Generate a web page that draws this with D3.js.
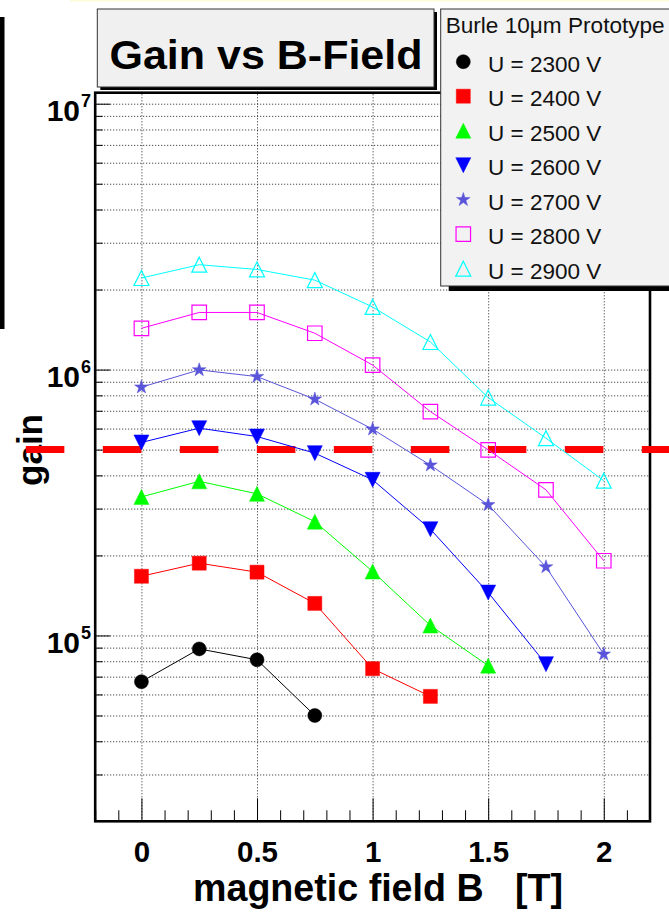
<!DOCTYPE html>
<html>
<head>
<meta charset="utf-8">
<script src="https://cdn.jsdelivr.net/npm/d3@7"></script>
<style>
  body { margin: 0; background: #fff; }
  svg { display: block; font-family: "Liberation Sans", Arial, Helvetica, sans-serif; }
</style>
</head>
<body>
<div id="chart"></div>
<script>
// Gain vs B-Field (Burle 10um prototype)

// data
const bField = [0, 0.25, 0.5, 0.75, 1, 1.25, 1.5, 1.75, 2];
const voltages = [2300, 2400, 2500, 2600, 2700, 2800, 2900];
const gain2300 = [67000, 89000, 81000, 50000];
const gain2400 = [167000, 187000, 173000, 132000, 75000, 59000];
const gain2500 = [332000, 380000, 341000, 268000, 174000, 109000, 77000];
const gain2600 = [532000, 602000, 560000, 485000, 385000, 251000, 145000, 78000];
const gain2700 = [859000, 997000, 941000, 774000, 597000, 437000, 310000, 181000, 85000];
const gain2800 = [1430000, 1640000, 1640000, 1370000, 1040000, 695000, 499000, 353000, 191000];
const gain2900 = [2210000, 2480000, 2380000, 2170000, 1720000, 1270000, 785000, 552000, 382000];
const gainSeries = [gain2300, gain2400, gain2500, gain2600, gain2700, gain2800, gain2900];
const thresholdGain = 500000;
const thresholdRange = [-0.5, 2.6];

// ticks
const xTicks = [0, 0.5, 1, 1.5, 2];
const xTickLabels = ['0', '0.5', '1', '1.5', '2'];
const yDecades = [1e5, 1e6, 1e7];
const yDecadeExps = ['5', '6', '7'];

const titleText = 'Gain vs B-Field';
const legendHeader = 'Burle 10\u03bcm Prototype';
const xTitle = 'magnetic field B   [T]';
const yTitle = 'gain';

// styles (marker type, colour)
const seriesStyle = [
    {marker: 'circle',  color: '#000000', fill: true},
    {marker: 'square',  color: '#ff0000', fill: true},
    {marker: 'triUp',   color: '#00ff00', fill: true},
    {marker: 'triDown', color: '#0000ff', fill: true},
    {marker: 'star',    color: '#5954d9', fill: true},
    {marker: 'square',  color: '#ff00ff', fill: false},
    {marker: 'triUp',   color: '#00ffff', fill: false}
];

const W = 669, H = 912;
const frame = {left: 95.2, right: 650, top: 92.7, bottom: 821.3};

const svg = d3.select('#chart').append('svg')
    .attr('width', W)
    .attr('height', H);

const x = d3.scaleLinear().domain([-0.2, 2.2]).range([frame.left, frame.right]);
const y = d3.scaleLog().domain([2e4, 1.1e7]).range([frame.bottom, frame.top]);

// marcas de eixo
const yGrid = [1e4, 1e5, 1e6, 1e7]
    .flatMap(d => [1, 2, 3, 4, 5, 6, 7, 8, 9].map(m => m * d))
    .filter(v => v > 2e4 * 1.001 && v < 1.1e7);
const yMinor = yGrid.filter(v => !yDecades.includes(v));
const xMinor = d3.range(-2, 23).map(i => i / 10)
    .filter(v => Math.abs(v * 2 - Math.round(v * 2)) > 1e-6);

function markerPath(type, s) {
    const h = s / 2;
    switch (type) {
        case 'circle': return d3.symbol(d3.symbolCircle, Math.PI * h * h)();
        case 'square': return `M${-h},${-h}H${h}V${h}H${-h}Z`;
        case 'triUp': return `M0,${-h}L${h},${h}L${-h},${h}Z`;
        case 'triDown': return `M0,${h}L${h},${-h}L${-h},${-h}Z`;
        case 'star': return d3.symbol(d3.symbolStar, 58)();
    }
}
function markerSize(st) {
    if (st.marker === 'circle') return 14;
    if (st.marker === 'square') return st.fill ? 14 : 14.5;
    return 15;
}

// faixas decorativas
svg.append('rect').attr('x', 70).attr('y', 0).attr('width', W - 70).attr('height', 1.5).attr('fill', '#fffbd8');
svg.append('rect').attr('x', 0).attr('y', 17).attr('width', 4.5).attr('height', 312).attr('fill', '#000');

// grade
svg.append('g')
    .attr('transform', `translate(0,${frame.bottom})`)
    .call(d3.axisBottom(x).tickValues(xTicks).tickSize(-(frame.bottom - frame.top)).tickFormat(''))
    .call(g => g.select('.domain').remove())
    .call(g => g.selectAll('line').attr('stroke', '#222').attr('stroke-dasharray', '1,2'));

svg.append('g')
    .attr('transform', `translate(${frame.left},0)`)
    .call(d3.axisLeft(y).tickValues(yGrid).tickSize(-(frame.right - frame.left)).tickFormat(''))
    .call(g => g.select('.domain').remove())
    .call(g => g.selectAll('line').attr('stroke', '#222').attr('stroke-dasharray', '1,2'));

// ticks
function ticks(axis, transform) {
    svg.append('g')
        .attr('transform', transform)
        .call(axis.tickFormat(''))
        .call(g => g.select('.domain').remove())
        .call(g => g.selectAll('line').attr('stroke', '#000').attr('stroke-width', 1));
}
ticks(d3.axisRight(y).tickValues(yDecades).tickSize(15), `translate(${frame.left},0)`);
ticks(d3.axisRight(y).tickValues(yMinor).tickSize(7.5), `translate(${frame.left},0)`);
ticks(d3.axisTop(x).tickValues(xTicks).tickSize(23), `translate(0,${frame.bottom})`);
ticks(d3.axisTop(x).tickValues(xMinor).tickSize(11), `translate(0,${frame.bottom})`);

// moldura
svg.append('rect')
    .attr('x', frame.left)
    .attr('y', frame.top)
    .attr('width', frame.right - frame.left)
    .attr('height', frame.bottom - frame.top)
    .attr('fill', 'none')
    .attr('stroke', '#000')
    .attr('stroke-width', 2.6);

// rótulos dos eixos
yDecades.forEach((v, i) => {
    svg.append('text')
        .attr('x', 80).attr('y', y(v) + 17.5)
        .attr('text-anchor', 'end')
        .style('font-weight', 'bold').style('font-size', '30px')
        .text('10');
    svg.append('text')
        .attr('x', 81).attr('y', y(v) + 3.5)
        .style('font-weight', 'bold').style('font-size', '18px')
        .text(yDecadeExps[i]);
});

xTicks.forEach((v, i) => {
    svg.append('text')
        .attr('x', x(v) + 0.5).attr('y', 862)
        .attr('text-anchor', 'middle')
        .style('font-weight', 'bold').style('font-size', '29.5px')
        .text(xTickLabels[i]);
});

svg.append('text')
    .attr('x', 193).attr('y', 901)
    .attr('textLength', 370).attr('lengthAdjust', 'spacingAndGlyphs')
    .style('white-space', 'pre')
    .style('font-weight', 'bold').style('font-size', '38px')
    .text(xTitle);

svg.append('text')
    .attr('transform', 'translate(42,450) rotate(-90)')
    .attr('text-anchor', 'middle')
    .style('font-weight', 'bold').style('font-size', '35px')
    .text(yTitle);

// linha de referência
svg.append('line')
    .attr('x1', x(thresholdRange[0]))
    .attr('x2', x(thresholdRange[1]))
    .attr('y1', y(thresholdGain))
    .attr('y2', y(thresholdGain))
    .attr('stroke', '#ff0000')
    .attr('stroke-width', 7)
    .attr('stroke-dasharray', '38.5,38.5');

// séries
const line = d3.line().x(d => x(d[0])).y(d => y(d[1]));
gainSeries.forEach((vals, i) => {
    const st = seriesStyle[i];
    const pts = vals.map((g, j) => [bField[j], g]);
    svg.append('path')
        .datum(pts)
        .attr('d', line)
        .attr('fill', 'none')
        .attr('stroke', st.color)
        .attr('stroke-width', 1);
});
gainSeries.forEach((vals, i) => {
    const st = seriesStyle[i];
    const pts = vals.map((g, j) => [bField[j], g]);
    svg.append('g').selectAll('path')
        .data(pts)
        .enter()
        .append('path')
        .attr('transform', d => `translate(${x(d[0])},${y(d[1])})`)
        .attr('d', markerPath(st.marker, markerSize(st)))
        .attr('fill', st.fill ? st.color : 'none')
        .attr('stroke', st.color)
        .attr('stroke-width', st.fill ? 0.5 : 1.2);
});

// título
svg.append('rect').attr('x', 100.3).attr('y', 12).attr('width', 336.7).attr('height', 78).attr('fill', '#000');
svg.append('rect').attr('x', 97.3).attr('y', 9).attr('width', 336.7).attr('height', 78)
    .attr('fill', '#f0f0f0').attr('stroke', '#333').attr('stroke-width', 1);
svg.append('text')
    .attr('x', 266).attr('y', 68.5)
    .attr('text-anchor', 'middle')
    .attr('textLength', 313).attr('lengthAdjust', 'spacingAndGlyphs')
    .style('font-weight', 'bold').style('font-size', '40px')
    .text(titleText);

// legenda
svg.append('rect').attr('x', 448.7).attr('y', 14).attr('width', 240).attr('height', 277).attr('fill', '#000');
svg.append('rect').attr('x', 440.7).attr('y', 9).attr('width', 240).attr('height', 277)
    .attr('fill', '#f2f2f2').attr('stroke', '#333').attr('stroke-width', 1);
svg.append('text')
    .attr('x', 445.7).attr('y', 33)
    .attr('textLength', 219).attr('lengthAdjust', 'spacingAndGlyphs')
    .style('font-size', '22.5px').attr('fill', '#111')
    .text(legendHeader);

voltages.forEach((u, i) => {
    const st = seriesStyle[i];
    const base = 71.7 + i * 34.5;
    svg.append('path')
        .attr('transform', `translate(463.3,${base - 10})`)
        .attr('d', markerPath(st.marker, markerSize(st)))
        .attr('fill', st.fill ? st.color : 'none')
        .attr('stroke', st.color)
        .attr('stroke-width', st.fill ? 0.5 : 1.2);
    svg.append('text')
        .attr('x', 488).attr('y', base)
        .style('font-size', '22.5px').attr('fill', '#111')
        .text(`U = ${u} V`);
});
</script>
</body>
</html>
